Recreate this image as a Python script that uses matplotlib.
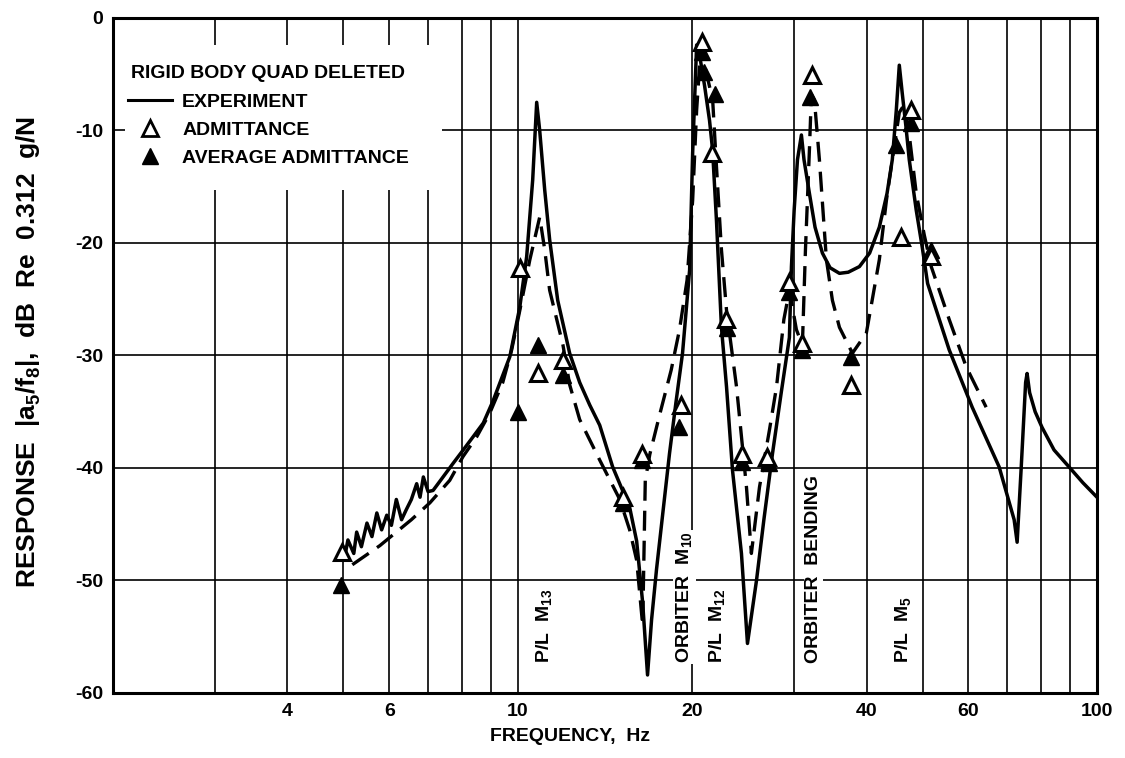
import matplotlib
matplotlib.use('Agg')
import matplotlib.pyplot as plt
from matplotlib.lines import Line2D
from matplotlib.patches import Rectangle

plt.rcParams['font.family'] = ['Liberation Sans', 'DejaVu Sans']
plt.rcParams['font.weight'] = 'bold'
plt.rcParams['axes.labelweight'] = 'bold'
plt.rcParams['mathtext.fontset'] = 'custom'
plt.rcParams['mathtext.rm'] = 'Liberation Sans:bold'
plt.rcParams['mathtext.it'] = 'Liberation Sans:bold'
plt.rcParams['axes.unicode_minus'] = False

# experiment (solid line): frequency Hz, response dB
exp_f = [5.03, 5.09, 5.21, 5.27, 5.37, 5.49, 5.60, 5.71, 5.82, 5.94, 6.05, 6.17, 6.30,
         6.42, 6.55, 6.69, 6.78, 6.87, 7.00, 7.14, 7.43, 7.73, 8.05, 8.38, 8.72, 9.07,
         9.69, 10.08, 10.36, 10.61, 10.78, 10.91, 11.13, 11.35, 11.72, 12.29, 12.79,
         13.31, 13.85, 14.58, 15.6, 16.04, 16.43, 16.75, 17.02, 17.36, 17.8, 18.28,
         18.75, 19.25, 19.8, 20.04, 20.36, 20.6, 21.01, 21.43, 21.69, 22.03, 22.47,
         22.93, 23.48, 24.33, 24.92, 25.83, 26.6, 27.53, 28.5, 29.44, 29.68, 30.0,
         30.4, 30.88, 31.2, 31.88, 32.6, 33.57, 34.6, 35.92, 37.2, 38.89, 40.5, 42.09,
         43.4, 44.32, 45.03, 45.57, 46.11, 46.8, 47.41, 48.75, 49.93, 51.0, 55.57,
         60.89, 67.77, 71.94, 72.8, 74.0, 75.3, 75.74, 76.5, 78.2, 80.39, 84.31,
         89.46, 94.5, 100.0]
exp_db = [-47.8, -46.4, -47.6, -45.7, -47.0, -44.9, -46.1, -44.0, -45.5, -44.2, -45.1,
          -42.8, -44.6, -43.7, -42.8, -41.4, -42.6, -40.8, -42.1, -42.0, -40.8, -39.6,
          -38.4, -37.2, -36.0, -34.0, -30.1, -25.7, -21.2, -14.4, -7.5, -10.0, -15.3,
          -19.7, -25.1, -29.8, -32.4, -34.4, -36.2, -39.9, -43.5, -46.5, -52.0, -58.4,
          -53.5, -49.0, -44.0, -38.7, -34.2, -29.8, -22.4, -12.0, -2.4, -3.3, -6.0,
          -9.1, -11.7, -18.0, -27.5, -32.8, -40.2, -47.6, -55.6, -50.0, -44.6, -38.7,
          -33.3, -28.4, -22.1, -17.1, -12.6, -10.4, -12.6, -15.6, -18.6, -20.9, -22.2,
          -22.7, -22.6, -22.1, -20.9, -18.6, -15.6, -12.6, -8.2, -4.2, -6.7, -9.7,
          -12.6, -17.1, -20.4, -23.6, -29.5, -34.6, -39.9, -44.6, -46.6, -39.9, -32.4,
          -31.6, -33.3, -35.0, -36.4, -38.4, -39.9, -41.3, -42.6]

# average admittance fit (dashed line)
fit_f = [5.18, 5.78, 6.55, 7.05, 7.63, 8.04, 8.5, 8.95, 9.42, 9.76, 10.08, 10.49,
         10.91, 11.13, 11.35, 11.97, 12.29, 12.79, 13.85, 15.0, 15.6, 16.04, 16.43,
         16.6, 16.9, 17.57, 18.4, 19.02, 19.6, 20.04, 20.36, 20.7, 21.1, 21.7, 22.03,
         22.47, 22.93, 23.86, 24.82, 25.31, 26.14, 27.2, 27.97, 28.8, 29.44, 30.27,
         31.0, 31.38, 31.88, 32.13, 32.52, 33.17, 34.11, 34.93, 35.92, 37.82, 39.98,
         42.09, 43.3, 44.32, 45.57, 46.48, 47.41, 48.75, 50.33, 51.74, 55.57, 59.45,
         64.36]
fit_db = [-48.6, -46.9, -44.6, -43.1, -41.1, -39.0, -37.2, -35.1, -32.4, -29.5, -26.0,
          -21.5, -17.7, -20.6, -24.2, -29.1, -32.6, -35.7, -39.3, -42.8, -45.5, -48.2,
          -54.0, -41.1, -38.8, -35.3, -31.3, -27.7, -23.3, -16.2, -8.2, -2.6, -4.6,
          -7.3, -13.2, -20.6, -26.0, -32.8, -41.7, -47.6, -41.7, -36.6, -32.8, -26.8,
          -24.2, -27.7, -29.1, -20.6, -11.7, -6.8, -7.3, -12.6, -21.5, -25.1, -27.5,
          -29.8, -28.0, -21.5, -16.2, -12.6, -8.4, -7.7, -10.4, -15.6, -19.3, -22.1,
          -26.8, -31.0, -34.6]

# admittance (open triangles)
adm_f = [4.97, 10.08, 10.83, 11.96, 15.2, 16.4, 19.1, 20.8, 21.6, 22.9, 24.4, 26.9,
         29.4, 31.0, 32.2, 37.6, 45.9, 47.7, 51.7]
adm_db = [-47.5, -22.2, -31.6, -30.4, -42.6, -38.8, -34.4, -2.1, -12.0, -26.8, -38.8,
          -39.0, -23.5, -28.9, -5.1, -32.6, -19.5, -8.2, -21.2]

# average admittance (filled triangles)
avg_f = [4.95, 10.0, 10.83, 11.96, 15.2, 16.4, 19.0, 20.8, 21.0, 21.9, 23.0, 24.4,
         27.2, 29.4, 31.0, 32.0, 37.6, 45.0, 47.7, 51.7]
avg_db = [-50.4, -35.0, -29.1, -31.7, -43.1, -39.3, -36.4, -3.0, -4.8, -6.8, -27.6,
          -39.5, -39.6, -24.4, -29.5, -7.0, -30.1, -11.3, -9.3, -20.6]

grid_f = [3, 4, 5, 6, 7, 8, 9, 10, 20, 30, 40, 50, 60, 70, 80, 90]
tick_f = [4, 6, 10, 20, 40, 60, 100]

# rotated mode labels, placed by frequency with their lower end at -57.3 dB
mode_f = [11.1, 19.4, 22.1, 32.4, 46.2]
mode_txt = [r'P/L  M$_{13}$', r'ORBITER  M$_{10}$', r'P/L  M$_{12}$',
            'ORBITER  BENDING', r'P/L  M$_5$']

fig = plt.figure(figsize=(11.25, 7.58), dpi=100)
ax = fig.add_axes([0.1004, 0.0858, 0.8747, 0.8905])
ax.set_xscale('log')
ax.set_xlim(2, 100)
ax.set_ylim(-60, 0)

for g in grid_f:
    ax.axvline(g, color='black', lw=1.2, zorder=1)
for v in range(-50, 0, 10):
    ax.axhline(v, color='black', lw=1.2, zorder=1)

# white patch behind the legend, the grid is broken there
ax.add_patch(Rectangle((0.012, 0.745), 0.322, 0.215, transform=ax.transAxes,
                       facecolor='white', edgecolor='none', zorder=1.5))

ax.plot(exp_f, exp_db, color='black', lw=2.5, zorder=3, solid_joinstyle='round')
ax.plot(fit_f, fit_db, color='black', lw=2.4, dashes=(6, 3), zorder=3)
ax.plot(adm_f, adm_db, ls='none', marker='^', ms=12, mfc='white', mec='black',
        mew=2.2, zorder=5)
ax.plot(avg_f, avg_db, ls='none', marker='^', ms=12, mfc='black', mec='black',
        zorder=4)

for f, t in zip(mode_f, mode_txt):
    ax.text(f, -57.3, t, rotation=90, ha='center', va='bottom', fontsize=14,
            zorder=2, bbox=dict(facecolor='white', edgecolor='none', pad=1))

ax.set_xticks(tick_f)
ax.set_xticklabels([str(t) for t in tick_f])
ax.set_xticks([], minor=True)
ax.set_yticks(range(-60, 1, 10))
ax.tick_params(axis='both', length=0, labelsize=14, pad=7)
for s in ax.spines.values():
    s.set_linewidth(2.2)

ax.set_xlabel('FREQUENCY,  Hz', fontsize=14)
ax.xaxis.set_label_coords(0.465, -0.052)
ax.set_ylabel(r'RESPONSE  $\left|\mathrm{a}_5/\mathrm{f}_8\right|$,  dB  Re  0.312  g/N',
              fontsize=19)
ax.yaxis.set_label_coords(-0.071, 0.505)

handles = [Line2D([], [], color='black', lw=2.2),
           Line2D([], [], ls='none', marker='^', ms=11, mfc='white', mec='black', mew=2),
           Line2D([], [], ls='none', marker='^', ms=11, mfc='black', mec='black')]
leg = ax.legend(handles, ['EXPERIMENT', 'ADMITTANCE', 'AVERAGE ADMITTANCE'],
                title='RIGID BODY QUAD DELETED', loc='upper left',
                bbox_to_anchor=(0.015, 0.93), fontsize=14, title_fontsize=14,
                frameon=False, handlelength=2.3, handletextpad=0.5,
                labelspacing=0.55, borderpad=0, borderaxespad=0,
                alignment='center')
leg.set_zorder(6)

fig.savefig('out.png', dpi=100)
